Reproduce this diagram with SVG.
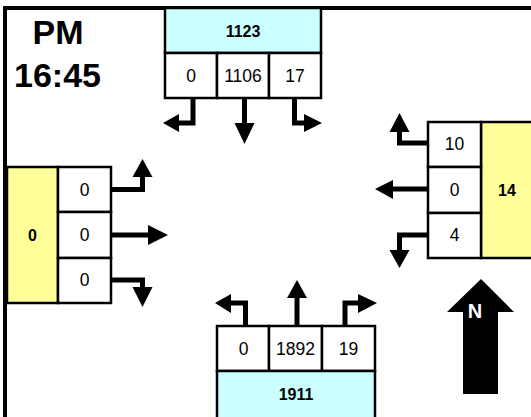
<svg xmlns="http://www.w3.org/2000/svg" width="531" height="417" viewBox="0 0 531 417">
<style>
.box{stroke:#000;stroke-width:2.5}
.cy{fill:#CCFFFF}
.ye{fill:#FFFF99}
.cell{fill:#fff}
.t{font-family:"Liberation Sans",Arial,sans-serif;font-size:17.5px;text-anchor:middle;fill:#000}
.b{font-family:"Liberation Sans",Arial,sans-serif;font-size:16px;font-weight:bold;text-anchor:middle;fill:#000}
.big{font-family:"Liberation Sans",Arial,sans-serif;font-size:34px;font-weight:bold;fill:#000}
.sh{fill:none;stroke:#000;stroke-width:5}
.hd{fill:#000}
</style>
<rect width="531" height="417" fill="#fff"/>
<g id="frame">
<line x1="3" y1="8" x2="533" y2="8" stroke="#000" stroke-width="4"/>
<line x1="5" y1="6" x2="5" y2="420" stroke="#000" stroke-width="4"/>
</g>
<g id="time">
<text class="big" x="58" y="44" text-anchor="middle">PM</text>
<text class="big" x="14" y="87">16:45</text>
</g>
<g id="north">
<rect x="165" y="8" width="156" height="45" class="box cy"/>
<rect x="165" y="53" width="52" height="45" class="box cell"/>
<rect x="217" y="53" width="52" height="45" class="box cell"/>
<rect x="269" y="53" width="52" height="45" class="box cell"/>
<text class="b" x="243" y="37">1123</text>
<text class="t" x="191" y="82">0</text>
<text class="t" x="243" y="82">1106</text>
<text class="t" x="295" y="82">17</text>
</g>
<g id="east">
<rect x="481" y="122" width="52" height="136" class="box ye"/>
<rect x="428" y="122" width="53" height="45" class="box cell"/>
<rect x="428" y="167" width="53" height="46" class="box cell"/>
<rect x="428" y="213" width="53" height="45" class="box cell"/>
<text class="b" x="507" y="196">14</text>
<text class="t" x="454.5" y="150">10</text>
<text class="t" x="454.5" y="196">0</text>
<text class="t" x="454.5" y="241">4</text>
</g>
<g id="west">
<rect x="7" y="167" width="51" height="136" class="box ye"/>
<rect x="58" y="167" width="53" height="45" class="box cell"/>
<rect x="58" y="212" width="53" height="46" class="box cell"/>
<rect x="58" y="258" width="53" height="45" class="box cell"/>
<text class="b" x="32.5" y="241">0</text>
<text class="t" x="84.5" y="196">0</text>
<text class="t" x="84.5" y="241">0</text>
<text class="t" x="84.5" y="286">0</text>
</g>
<g id="south">
<rect x="217" y="326" width="52" height="45" class="box cell"/>
<rect x="269" y="326" width="53" height="45" class="box cell"/>
<rect x="322" y="326" width="53" height="45" class="box cell"/>
<rect x="217" y="371" width="158" height="50" class="box cy"/>
<text class="t" x="243.5" y="355">0</text>
<text class="t" x="295.5" y="355">1892</text>
<text class="t" x="348.5" y="355">19</text>
<text class="b" x="296" y="400">1911</text>
</g>
<g id="connectors">
<path class="sh" d="M193 98 V123 H179"/>
<polygon class="hd" points="163,123 179,114 179,132"/>
<path class="sh" d="M244.5 98 V124"/>
<polygon class="hd" points="244.5,144 234.5,123 254.5,123"/>
<path class="sh" d="M294.5 98 V123 H305"/>
<polygon class="hd" points="322,123 304,114 304,132"/>
<path class="sh" d="M428 143 H399.5 V131"/>
<polygon class="hd" points="399.5,113 389.5,132 409.5,132"/>
<path class="sh" d="M428 189 H392"/>
<polygon class="hd" points="375,189 393,180 393,199"/>
<path class="sh" d="M428 235 H399.5 V251"/>
<polygon class="hd" points="399.5,268 389.5,250 409.5,250"/>
<path class="sh" d="M111 189.5 H142.5 V176"/>
<polygon class="hd" points="142.5,159 132.5,177 152.5,177"/>
<path class="sh" d="M111 235 H149"/>
<polygon class="hd" points="168,235 148,225 148,245"/>
<path class="sh" d="M111 280 H142.5 V288"/>
<polygon class="hd" points="142.5,307 132.5,287 152.5,287"/>
<path class="sh" d="M245.5 326 V303 H229"/>
<polygon class="hd" points="215,303 231,294 231,313"/>
<path class="sh" d="M297 326 V297"/>
<polygon class="hd" points="297,280 287,298 307,298"/>
<path class="sh" d="M345 326 V303 H359"/>
<polygon class="hd" points="377,303 358,294 358,313"/>
</g>
<g id="compass">
<polygon points="481,279 514,312 498,312 498,394 463,394 463,312 447,312" fill="#000"/>
<text x="475" y="318" font-family="'Liberation Sans',Arial,sans-serif" font-size="20" font-weight="bold" fill="#fff" text-anchor="middle">N</text>
</g>
</svg>
